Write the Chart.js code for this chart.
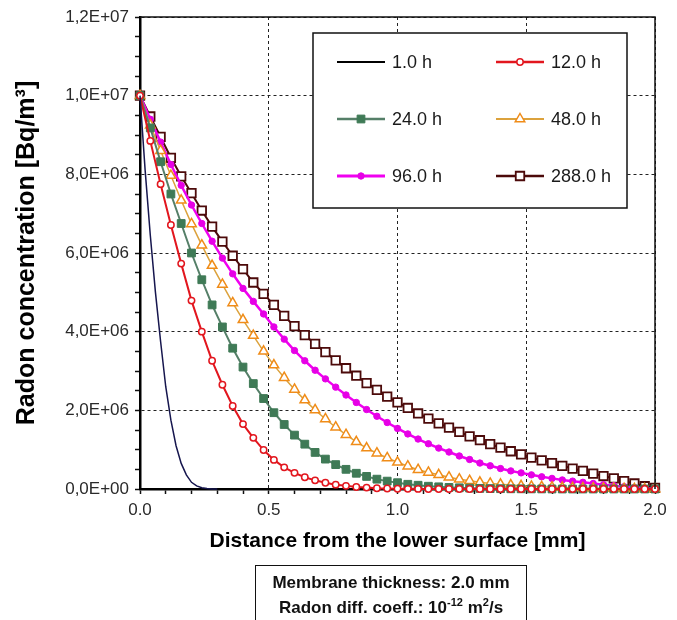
<!DOCTYPE html>
<html>
<head>
<meta charset="utf-8">
<title>Radon concentration profiles</title>
<script src="https://cdn.jsdelivr.net/npm/chart.js@4.4.1/dist/chart.umd.min.js"></script>
<style>
    html, body { margin: 0; padding: 0; background: #fff; }
    #wrap { position: relative; width: 677px; height: 620px; overflow: hidden; }
    #note {
        position: absolute; left: 255px; top: 565px; width: 272px; height: 70px;
        box-sizing: border-box; border: 1.5px solid #111;
        font: bold 17px Arial, "Liberation Sans", sans-serif; color: #111;
        text-align: center; line-height: 25px; padding-top: 4px;
    }
    #note sup { font-size: 11px; line-height: 0; }
</style>
</head>
<body>
<div id="wrap">
    <canvas id="radonChart" width="677" height="620"></canvas>
    <div id="note">Membrane thickness: 2.0 mm<br>Radon diff. coeff.: 10<sup>-12</sup> m<sup>2</sup>/s</div>
</div>
<script>
// distance from the lower surface [mm]
const distance = [0, 0.04, 0.08, 0.12, 0.16, 0.2, 0.24, 0.28, 0.32, 0.36, 0.4, 0.44, 0.48, 0.52, 0.56, 0.6,
    0.64, 0.68, 0.72, 0.76, 0.8, 0.84, 0.88, 0.92, 0.96, 1.0, 1.04, 1.08, 1.12, 1.16, 1.2, 1.24, 1.28, 1.32,
    1.36, 1.4, 1.44, 1.48, 1.52, 1.56, 1.6, 1.64, 1.68, 1.72, 1.76, 1.8, 1.84, 1.88, 1.92, 1.96, 2.0];
const distance1h = [0, 0.02, 0.04, 0.06, 0.08, 0.1, 0.12, 0.14, 0.16, 0.18, 0.2, 0.22, 0.24, 0.26, 0.28, 0.3];

// radon concentration, in units of 1E+06 Bq/m3
const conc1h = [10.0, 8.1, 6.45, 5.0, 3.75, 2.6, 1.75, 1.1, 0.65, 0.36, 0.17, 0.08, 0.03, 0.01, 0, 0];
const conc12h = [10.0, 8.85, 7.75, 6.71, 5.73, 4.79, 4.00, 3.26, 2.65, 2.11, 1.65, 1.30, 0.99, 0.74, 0.55, 0.41,
    0.30, 0.22, 0.16, 0.11, 0.08, 0.05, 0.035, 0.02, 0.012, 0.007, 0.004, 0.002, 0.001, 0.001, 0, 0, 0, 0,
    0, 0, 0, 0, 0, 0, 0, 0, 0, 0, 0, 0, 0, 0, 0, 0, 0];
const conc24h = [10.0, 9.18, 8.32, 7.50, 6.75, 6.00, 5.32, 4.68, 4.12, 3.58, 3.10, 2.68, 2.30, 1.94, 1.64, 1.37,
    1.14, 0.93, 0.76, 0.62, 0.50, 0.40, 0.32, 0.25, 0.20, 0.16, 0.12, 0.095, 0.07, 0.055, 0.04, 0.03, 0.022,
    0.016, 0.011, 0.008, 0.005, 0.004, 0.003, 0.002, 0.001, 0, 0, 0, 0, 0, 0, 0, 0, 0, 0];
const conc48h = [10.0, 9.25, 8.60, 7.97, 7.34, 6.74, 6.20, 5.68, 5.20, 4.73, 4.30, 3.90, 3.50, 3.15, 2.83, 2.53,
    2.26, 2.01, 1.78, 1.57, 1.38, 1.20, 1.04, 0.91, 0.79, 0.68, 0.58, 0.49, 0.42, 0.36, 0.30, 0.25, 0.21,
    0.17, 0.14, 0.12, 0.10, 0.08, 0.065, 0.055, 0.045, 0.037, 0.03, 0.025, 0.02, 0.016, 0.012, 0.009, 0.006, 0.003, 0];
const conc96h = [10.0, 9.40, 8.82, 8.25, 7.72, 7.22, 6.75, 6.30, 5.87, 5.47, 5.10, 4.77, 4.45, 4.12, 3.81, 3.52,
    3.26, 3.02, 2.80, 2.59, 2.39, 2.20, 2.02, 1.85, 1.69, 1.54, 1.40, 1.27, 1.15, 1.04, 0.94, 0.84, 0.75,
    0.66, 0.59, 0.52, 0.46, 0.41, 0.36, 0.31, 0.27, 0.23, 0.20, 0.17, 0.14, 0.11, 0.085, 0.06, 0.04, 0.02, 0.005];
const conc288h = [10.0, 9.47, 8.95, 8.42, 7.95, 7.52, 7.08, 6.67, 6.29, 5.93, 5.59, 5.25, 4.96, 4.68, 4.40, 4.14,
    3.91, 3.69, 3.48, 3.27, 3.07, 2.88, 2.69, 2.52, 2.35, 2.20, 2.06, 1.92, 1.79, 1.67, 1.56, 1.45, 1.34,
    1.24, 1.14, 1.05, 0.96, 0.88, 0.80, 0.73, 0.66, 0.59, 0.52, 0.46, 0.39, 0.33, 0.27, 0.20, 0.14, 0.07, 0.03];

const seriesLabels = ['1.0 h', '12.0 h', '24.0 h', '48.0 h', '96.0 h', '288.0 h'];

const FONT = 'Arial, "Liberation Sans", sans-serif';

function toPoints(xs, ys) {
    return xs.map((x, i) => ({ x: x, y: ys[i] * 1e6 }));
}

// 1,2E+07 style labels
function sciLabel(v) {
    const parts = v.toExponential(1).split('e');
    const exp = parseInt(parts[1], 10);
    return parts[0].replace('.', ',') + 'E' + (exp < 0 ? '-' : '+') + String(Math.abs(exp)).padStart(2, '0');
}

function isMultiple(v, step) {
    const r = v / step;
    return Math.abs(r - Math.round(r)) < 1e-6;
}

function drawMarker(ctx, style, x, y) {
    if (!style.pointStyle) return;
    const r = style.pointRadius;
    ctx.save();
    ctx.lineWidth = style.pointBorderWidth;
    ctx.strokeStyle = style.pointBorderColor;
    ctx.fillStyle = style.pointBackgroundColor;
    ctx.beginPath();
    if (style.pointStyle === 'circle') {
        ctx.arc(x, y, r, 0, Math.PI * 2);
    } else if (style.pointStyle === 'rect') {
        const s = r * Math.SQRT1_2;
        ctx.rect(x - s, y - s, 2 * s, 2 * s);
    } else if (style.pointStyle === 'triangle') {
        ctx.moveTo(x, y - r);
        ctx.lineTo(x + r * 0.866, y + r * 0.5);
        ctx.lineTo(x - r * 0.866, y + r * 0.5);
        ctx.closePath();
    }
    ctx.fill();
    ctx.stroke();
    ctx.restore();
}

// legend drawn inside the plot, two columns
const boxLegend = {
    id: 'boxLegend',
    afterDatasetsDraw(chart) {
        const ctx = chart.ctx;
        const box = { left: 313, top: 33, right: 627, bottom: 208 };
        ctx.save();
        ctx.fillStyle = '#fff';
        ctx.fillRect(box.left, box.top, box.right - box.left, box.bottom - box.top);
        ctx.lineWidth = 1.5;
        ctx.strokeStyle = '#111';
        ctx.strokeRect(box.left, box.top, box.right - box.left, box.bottom - box.top);

        const rowY = [62, 119, 176];
        const colX = [337, 496];
        chart.data.datasets.forEach((ds, i) => {
            const x0 = colX[i % 2];
            const y = rowY[Math.floor(i / 2)];
            ctx.beginPath();
            ctx.lineWidth = ds.borderWidth + 0.5;
            ctx.strokeStyle = i === 0 ? '#000' : ds.borderColor;
            ctx.moveTo(x0, y);
            ctx.lineTo(x0 + 48, y);
            ctx.stroke();
            drawMarker(ctx, ds, x0 + 24, y);
            ctx.fillStyle = '#1a1a1a';
            ctx.font = '18px ' + FONT;
            ctx.textBaseline = 'middle';
            ctx.textAlign = 'left';
            ctx.fillText(ds.label, x0 + 55, y + 1);
        });
        ctx.restore();
    }
};

// solid frame on the top and right
const plotFrame = {
    id: 'plotFrame',
    afterDraw(chart) {
        const a = chart.chartArea;
        const ctx = chart.ctx;
        ctx.save();
        ctx.lineWidth = 1.5;
        ctx.strokeStyle = '#111';
        ctx.beginPath();
        ctx.moveTo(a.left, a.top);
        ctx.lineTo(a.right, a.top);
        ctx.lineTo(a.right, a.bottom);
        ctx.stroke();
        ctx.restore();
    }
};

const datasets = [
    {
        label: seriesLabels[0], data: toPoints(distance1h, conc1h),
        borderColor: '#16164e', borderWidth: 1.5, pointRadius: 0, pointStyle: false
    },
    {
        label: seriesLabels[1], data: toPoints(distance, conc12h),
        borderColor: '#e2161e', borderWidth: 2,
        pointStyle: 'circle', pointRadius: 3.2, pointBorderWidth: 1.5,
        pointBorderColor: '#e2161e', pointBackgroundColor: '#fff'
    },
    {
        label: seriesLabels[2], data: toPoints(distance, conc24h),
        borderColor: '#557f68', borderWidth: 2,
        pointStyle: 'rect', pointRadius: 5.5, pointBorderWidth: 1,
        pointBorderColor: '#3f7a56', pointBackgroundColor: '#3f7a56'
    },
    {
        label: seriesLabels[3], data: toPoints(distance, conc48h),
        borderColor: '#dca23c', borderWidth: 1.5,
        pointStyle: 'triangle', pointRadius: 5.5, pointBorderWidth: 1.5,
        pointBorderColor: '#f08c18', pointBackgroundColor: '#fff'
    },
    {
        label: seriesLabels[4], data: toPoints(distance, conc96h),
        borderColor: '#f000f0', borderWidth: 2.5,
        pointStyle: 'circle', pointRadius: 3.2, pointBorderWidth: 1,
        pointBorderColor: '#e600e6', pointBackgroundColor: '#e600e6'
    },
    {
        label: seriesLabels[5], data: toPoints(distance, conc288h),
        borderColor: '#4c0a0a', borderWidth: 2,
        pointStyle: 'rect', pointRadius: 6, pointBorderWidth: 1.8,
        pointBorderColor: '#4c0a0a', pointBackgroundColor: '#fff'
    }
];
datasets.forEach(ds => {
    ds.showLine = true;
    ds.tension = 0;
    ds.clip = false;
    ds.pointHoverRadius = ds.pointRadius;
});

new Chart(document.getElementById('radonChart'), {
    type: 'scatter',
    data: { datasets: datasets },
    plugins: [boxLegend, plotFrame],
    options: {
        responsive: false,
        animation: false,
        events: [],
        layout: { padding: { left: 0, right: 22, top: 17, bottom: 64 } },
        plugins: { legend: { display: false }, tooltip: { enabled: false } },
        scales: {
            x: {
                type: 'linear', min: 0, max: 2,
                afterFit: scale => { scale.height = 67; },
                ticks: {
                    stepSize: 0.1, autoSkip: false, maxRotation: 0, padding: 6,
                    color: '#2a2a2a', font: { family: FONT, size: 17 },
                    callback: v => isMultiple(v, 0.5) ? v.toFixed(1) : ''
                },
                grid: {
                    color: ctx => isMultiple(ctx.tick.value, 0.5) ? '#222' : 'rgba(0,0,0,0)',
                    lineWidth: 1, tickLength: 5, tickColor: '#111', tickWidth: 1.5
                },
                border: { display: true, color: '#000', width: 2.5, dash: [3, 3] },
                title: {
                    display: true, text: 'Distance from the lower surface [mm]', color: '#000',
                    font: { family: FONT, size: 21, weight: 'bold' }, padding: { top: 0, bottom: 2 }
                }
            },
            y: {
                type: 'linear', min: 0, max: 1.2e7,
                afterFit: scale => { scale.width = 140; },
                ticks: {
                    stepSize: 5e5, autoSkip: false, maxTicksLimit: 100, padding: 6,
                    color: '#2a2a2a', font: { family: FONT, size: 17 },
                    callback: v => isMultiple(v, 2e6) ? sciLabel(v) : ''
                },
                grid: {
                    color: ctx => isMultiple(ctx.tick.value, 2e6) ? '#222' : 'rgba(0,0,0,0)',
                    lineWidth: 1, tickLength: 5, tickColor: '#111', tickWidth: 1.5
                },
                border: { display: true, color: '#000', width: 2.5, dash: [3, 3] },
                title: {
                    display: true, text: 'Radon concentration [Bq/m³]', color: '#000',
                    font: { family: FONT, size: 25, weight: 'bold' }, padding: { top: 12, bottom: 0 }
                }
            }
        }
    }
});
</script>
</body>
</html>
